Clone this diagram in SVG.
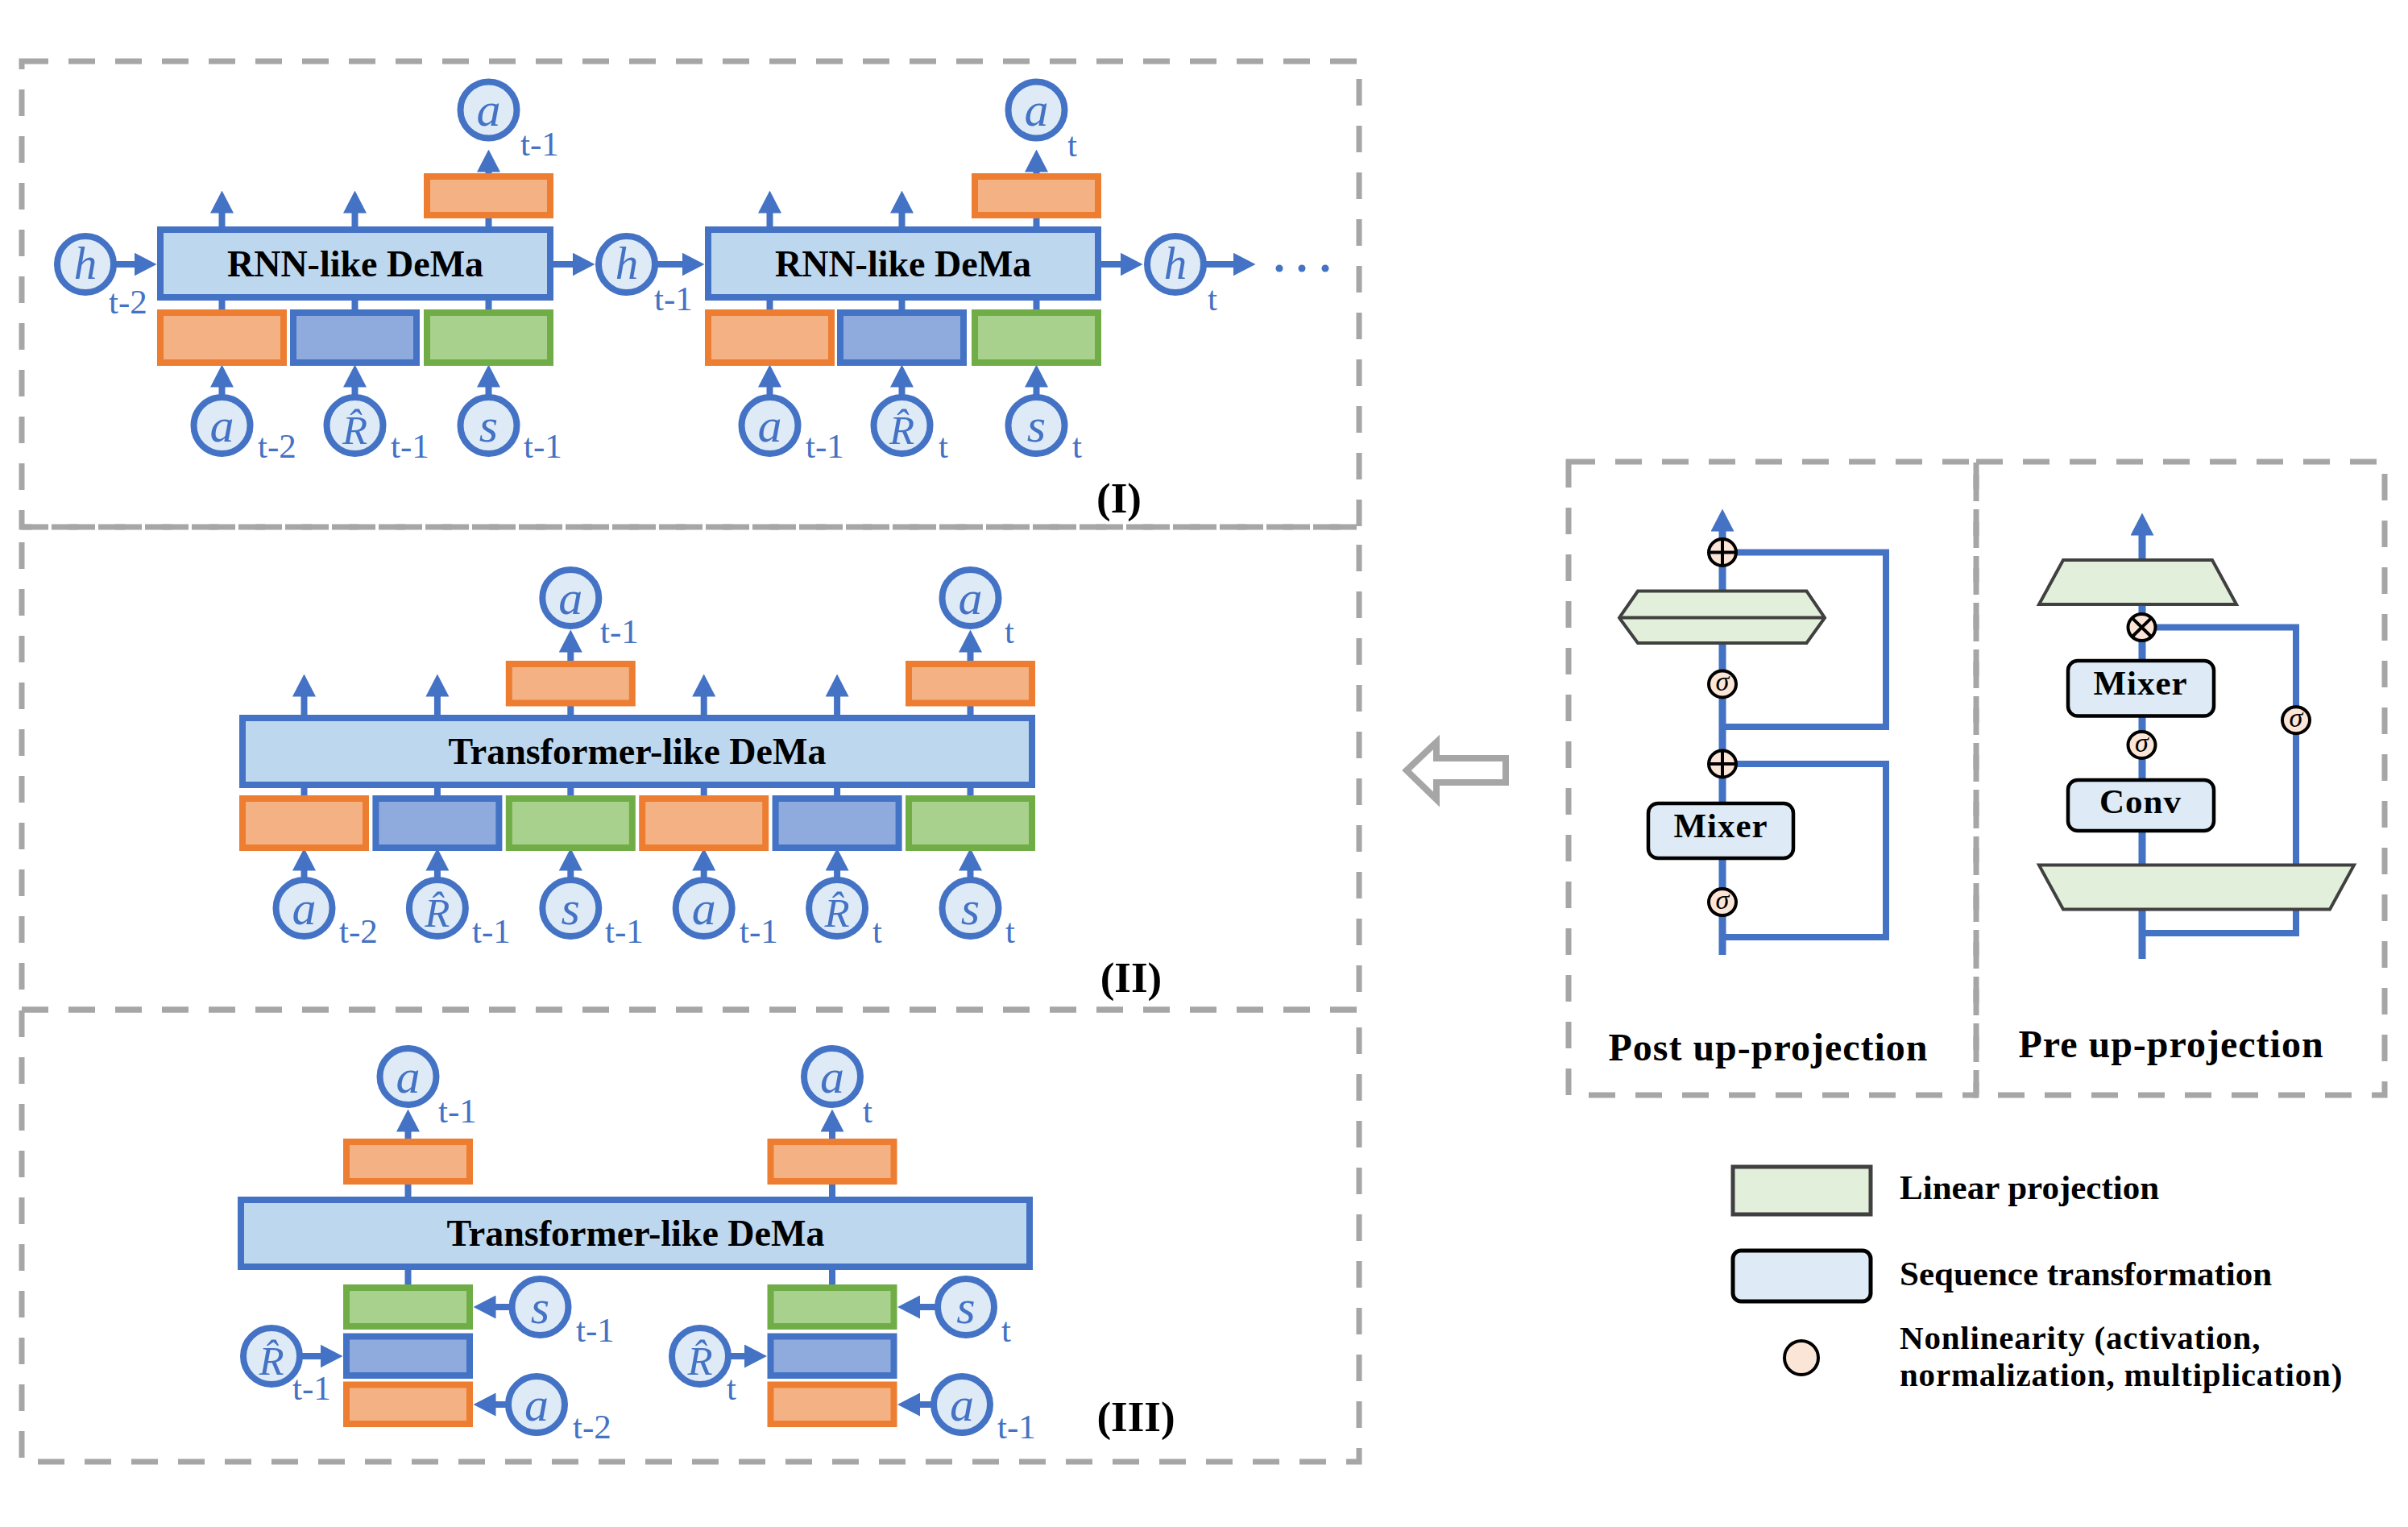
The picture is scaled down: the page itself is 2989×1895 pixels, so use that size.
<svg xmlns="http://www.w3.org/2000/svg" width="2989" height="1895" viewBox="0 0 2989 1895">
<style>
.dash{fill:none;stroke:#A6A6A6;stroke-width:7;stroke-dasharray:33 25}
.conn{stroke:#4472C4;stroke-width:8;fill:none}
.thick{stroke:#4472C4;stroke-width:9;fill:none}
.big{fill:#BDD7EE;stroke:#4472C4;stroke-width:8}
.or{fill:#F4B183;stroke:#ED7D31;stroke-width:8}
.bl{fill:#8FAADC;stroke:#4472C4;stroke-width:8}
.gr{fill:#A9D18E;stroke:#70AD47;stroke-width:8}
.cir{fill:#DEEBF7;stroke:#4472C4;stroke-width:8}
.v{font-family:"Liberation Serif",serif;font-style:italic;font-size:60px;fill:#4472C4;text-anchor:middle}
.vr{font-family:"Liberation Serif",serif;font-style:italic;font-size:51px;fill:#4472C4;text-anchor:middle}
.sub{font-family:"Liberation Serif",serif;font-size:43px;fill:#4472C4}
.title{font-family:"Liberation Serif",serif;font-weight:bold;font-size:46px;text-anchor:middle;fill:#000}
.lab{font-family:"Liberation Serif",serif;font-weight:bold;font-size:53px;text-anchor:middle;fill:#000}
.lin{fill:#E2EFDA;stroke:#404040;stroke-width:4}
.seq{fill:#DEEBF7;stroke:#000;stroke-width:4.5}
.nl{fill:#FBE5D6;stroke:#000;stroke-width:4}
.op{stroke:#000;stroke-width:4}
.sig{font-family:"Liberation Serif",serif;font-style:italic;font-size:34px;fill:#000;text-anchor:middle}
.mx{font-family:"Liberation Serif",serif;font-weight:bold;font-size:43px;text-anchor:middle;fill:#000;letter-spacing:1px}
.pt{font-family:"Liberation Serif",serif;font-weight:bold;font-size:48px;text-anchor:middle;fill:#000;letter-spacing:1px}
.leg{font-family:"Liberation Serif",serif;font-weight:bold;font-size:43px;fill:#000}
.leg2{font-family:"Liberation Serif",serif;font-weight:bold;font-size:41px;fill:#000;letter-spacing:0.8px}
</style>
<defs>
<marker id="ah" markerUnits="userSpaceOnUse" markerWidth="28" markerHeight="29" refX="0.5" refY="14.5" orient="auto" viewBox="0 0 28 29">
<path d="M0,0 L28,14.5 L0,29 z" fill="#4472C4"/>
</marker>
</defs>

<g id="frames">
<rect class="dash" x="27" y="76" width="1660" height="578"/>
<rect class="dash" x="27" y="654" width="1660" height="599"/>
<rect class="dash" x="27" y="1253" width="1660" height="561"/>
<rect class="dash" x="1947" y="573" width="506" height="786"/>
<rect class="dash" x="2453" y="573" width="507" height="786"/>
</g>

<g id="connectors">
<line class="conn" x1="275.5" y1="290" x2="275.5" y2="264" marker-end="url(#ah)"/>
<line class="conn" x1="440.5" y1="290" x2="440.5" y2="264" marker-end="url(#ah)"/>
<line class="conn" x1="955.5" y1="290" x2="955.5" y2="264" marker-end="url(#ah)"/>
<line class="conn" x1="1119.5" y1="290" x2="1119.5" y2="264" marker-end="url(#ah)"/>
<line class="conn" x1="606.5" y1="290" x2="606.5" y2="213" marker-end="url(#ah)"/>
<line class="conn" x1="1286.5" y1="290" x2="1286.5" y2="213" marker-end="url(#ah)"/>
<line class="conn" x1="275.5" y1="365" x2="275.5" y2="392"/>
<line class="conn" x1="440.5" y1="365" x2="440.5" y2="392"/>
<line class="conn" x1="606.5" y1="365" x2="606.5" y2="392"/>
<line class="conn" x1="955.5" y1="365" x2="955.5" y2="392"/>
<line class="conn" x1="1119.5" y1="365" x2="1119.5" y2="392"/>
<line class="conn" x1="1286.5" y1="365" x2="1286.5" y2="392"/>
<line class="conn" x1="275.5" y1="500" x2="275.5" y2="480" marker-end="url(#ah)"/>
<line class="conn" x1="440.5" y1="500" x2="440.5" y2="480" marker-end="url(#ah)"/>
<line class="conn" x1="606.5" y1="500" x2="606.5" y2="480" marker-end="url(#ah)"/>
<line class="conn" x1="955.5" y1="500" x2="955.5" y2="480" marker-end="url(#ah)"/>
<line class="conn" x1="1119.5" y1="500" x2="1119.5" y2="480" marker-end="url(#ah)"/>
<line class="conn" x1="1286.5" y1="500" x2="1286.5" y2="480" marker-end="url(#ah)"/>
<line class="conn" x1="106" y1="328" x2="167" y2="328" marker-end="url(#ah)"/>
<line class="conn" x1="680" y1="328" x2="711" y2="328" marker-end="url(#ah)"/>
<line class="conn" x1="778" y1="328" x2="847" y2="328" marker-end="url(#ah)"/>
<line class="conn" x1="1360" y1="328" x2="1391" y2="328" marker-end="url(#ah)"/>
<line class="conn" x1="1459" y1="328" x2="1531" y2="328" marker-end="url(#ah)"/>
<line class="conn" x1="377.5" y1="895" x2="377.5" y2="864" marker-end="url(#ah)"/>
<line class="conn" x1="542.9" y1="895" x2="542.9" y2="864" marker-end="url(#ah)"/>
<line class="conn" x1="873.7" y1="895" x2="873.7" y2="864" marker-end="url(#ah)"/>
<line class="conn" x1="1039.1" y1="895" x2="1039.1" y2="864" marker-end="url(#ah)"/>
<line class="conn" x1="708.3" y1="895" x2="708.3" y2="809" marker-end="url(#ah)"/>
<line class="conn" x1="1204.5" y1="895" x2="1204.5" y2="809" marker-end="url(#ah)"/>
<line class="conn" x1="377.5" y1="970" x2="377.5" y2="995"/>
<line class="conn" x1="542.9" y1="970" x2="542.9" y2="995"/>
<line class="conn" x1="708.3" y1="970" x2="708.3" y2="995"/>
<line class="conn" x1="873.7" y1="970" x2="873.7" y2="995"/>
<line class="conn" x1="1039.1" y1="970" x2="1039.1" y2="995"/>
<line class="conn" x1="1204.5" y1="970" x2="1204.5" y2="995"/>
<line class="conn" x1="377.5" y1="1120" x2="377.5" y2="1080" marker-end="url(#ah)"/>
<line class="conn" x1="542.9" y1="1120" x2="542.9" y2="1080" marker-end="url(#ah)"/>
<line class="conn" x1="708.3" y1="1120" x2="708.3" y2="1080" marker-end="url(#ah)"/>
<line class="conn" x1="873.7" y1="1120" x2="873.7" y2="1080" marker-end="url(#ah)"/>
<line class="conn" x1="1039.1" y1="1120" x2="1039.1" y2="1080" marker-end="url(#ah)"/>
<line class="conn" x1="1204.5" y1="1120" x2="1204.5" y2="1080" marker-end="url(#ah)"/>
<line class="conn" x1="506.5" y1="1495" x2="506.5" y2="1404" marker-end="url(#ah)"/>
<line class="conn" x1="1033" y1="1495" x2="1033" y2="1404" marker-end="url(#ah)"/>
<line class="conn" x1="506.5" y1="1570" x2="506.5" y2="1600"/>
<line class="conn" x1="1033" y1="1570" x2="1033" y2="1600"/>
<line class="conn" x1="670.5" y1="1622" x2="615" y2="1622" marker-end="url(#ah)"/>
<line class="conn" x1="337" y1="1683" x2="398" y2="1683" marker-end="url(#ah)"/>
<line class="conn" x1="666" y1="1743" x2="615" y2="1743" marker-end="url(#ah)"/>
<line class="conn" x1="1199" y1="1622" x2="1141.5" y2="1622" marker-end="url(#ah)"/>
<line class="conn" x1="869" y1="1683" x2="924.5" y2="1683" marker-end="url(#ah)"/>
<line class="conn" x1="1194" y1="1743" x2="1141.5" y2="1743" marker-end="url(#ah)"/>
<line class="thick" x1="2138" y1="1185" x2="2138" y2="659" marker-end="url(#ah)"/>
<path class="conn" d="M2138,902 H2341 V685.5 H2138"/>
<path class="conn" d="M2138,1163 H2341 V948 H2138"/>
<line class="thick" x1="2659" y1="1190" x2="2659" y2="664" marker-end="url(#ah)"/>
<path class="conn" d="M2659,1158 H2850 V778.6 H2659"/>
</g>

<g id="dots" fill="#4472C4">
<circle cx="1588" cy="333" r="4.5"/>
<circle cx="1616" cy="333" r="4.5"/>
<circle cx="1645" cy="333" r="4.5"/>
</g>

<g id="rnn1"><rect class="big" x="199" y="285" width="484" height="84"/><text class="title" x="441" y="343">RNN-like DeMa</text></g>
<g id="rnn2"><rect class="big" x="879" y="285" width="484" height="84"/><text class="title" x="1121" y="343">RNN-like DeMa</text></g>
<g id="i-emb-a1"><rect class="or" x="199" y="388" width="153" height="62"/></g>
<g id="i-emb-r1"><rect class="bl" x="364" y="388" width="153" height="62"/></g>
<g id="i-emb-s1"><rect class="gr" x="530" y="388" width="153" height="62"/></g>
<g id="i-emb-a2"><rect class="or" x="879" y="388" width="153" height="62"/></g>
<g id="i-emb-r2"><rect class="bl" x="1043" y="388" width="153" height="62"/></g>
<g id="i-emb-s2"><rect class="gr" x="1210" y="388" width="153" height="62"/></g>
<g id="i-out1"><rect class="or" x="530" y="219" width="153" height="48"/></g>
<g id="i-out2"><rect class="or" x="1210" y="219" width="153" height="48"/></g>

<g id="i-a-out1"><circle class="cir" cx="606.5" cy="136.5" r="35"/><text class="v" x="606.5" y="156">a</text><text class="sub" x="646" y="193">t-1</text></g>
<g id="i-a-out2"><circle class="cir" cx="1286.5" cy="136.5" r="35"/><text class="v" x="1286.5" y="156">a</text><text class="sub" x="1325" y="194">t</text></g>
<g id="h-t2"><circle class="cir" cx="106" cy="328" r="35"/><text class="v" x="106" y="346" style="font-size:57px">h</text><text class="sub" x="135" y="389">t-2</text></g>
<g id="h-t1"><circle class="cir" cx="778" cy="328" r="35"/><text class="v" x="778" y="346" style="font-size:57px">h</text><text class="sub" x="812" y="385">t-1</text></g>
<g id="h-t"><circle class="cir" cx="1459" cy="328" r="35"/><text class="v" x="1459" y="346" style="font-size:57px">h</text><text class="sub" x="1499" y="385">t</text></g>

<g id="i-a-in1"><circle class="cir" cx="275.5" cy="528" r="35"/><text class="v" x="275.5" y="547.5">a</text><text class="sub" x="320" y="568">t-2</text></g>
<g id="i-r-in1"><circle class="cir" cx="440.5" cy="528" r="35"/><text class="vr" x="440.5" y="551">R̂</text><text class="sub" x="485" y="568">t-1</text></g>
<g id="i-s-in1"><circle class="cir" cx="606.5" cy="528" r="35"/><text class="v" x="606.5" y="547.5">s</text><text class="sub" x="650" y="568">t-1</text></g>
<g id="i-a-in2"><circle class="cir" cx="955.5" cy="528" r="35"/><text class="v" x="955.5" y="547.5">a</text><text class="sub" x="1000" y="568">t-1</text></g>
<g id="i-r-in2"><circle class="cir" cx="1119.5" cy="528" r="35"/><text class="vr" x="1119.5" y="551">R̂</text><text class="sub" x="1165" y="568">t</text></g>
<g id="i-s-in2"><circle class="cir" cx="1286.5" cy="528" r="35"/><text class="v" x="1286.5" y="547.5">s</text><text class="sub" x="1331" y="568">t</text></g>
<text class="lab" x="1389" y="636">(I)</text>

<g id="tf2"><rect class="big" x="301" y="891" width="980" height="83"/><text class="title" x="791" y="948">Transformer-like DeMa</text></g>
<g id="ii-emb1"><rect class="or" x="301" y="991" width="153" height="61"/></g>
<g id="ii-emb2"><rect class="bl" x="466.4" y="991" width="153" height="61"/></g>
<g id="ii-emb3"><rect class="gr" x="631.8" y="991" width="153" height="61"/></g>
<g id="ii-emb4"><rect class="or" x="797.2" y="991" width="153" height="61"/></g>
<g id="ii-emb5"><rect class="bl" x="962.6" y="991" width="153" height="61"/></g>
<g id="ii-emb6"><rect class="gr" x="1128" y="991" width="153" height="61"/></g>
<g id="ii-out1"><rect class="or" x="631.8" y="824" width="153" height="48.5"/></g>
<g id="ii-out2"><rect class="or" x="1128" y="824" width="153" height="48.5"/></g>
<g id="ii-a-out1"><circle class="cir" cx="708.3" cy="742" r="35"/><text class="v" x="708.3" y="761.5">a</text><text class="sub" x="745" y="798">t-1</text></g>
<g id="ii-a-out2"><circle class="cir" cx="1204.5" cy="742" r="35"/><text class="v" x="1204.5" y="761.5">a</text><text class="sub" x="1247" y="798">t</text></g>
<g id="ii-in1"><circle class="cir" cx="377.5" cy="1127" r="35"/><text class="v" x="377.5" y="1146.5">a</text><text class="sub" x="421" y="1170">t-2</text></g>
<g id="ii-in2"><circle class="cir" cx="542.9" cy="1127" r="35"/><text class="vr" x="542.9" y="1150">R̂</text><text class="sub" x="586" y="1170">t-1</text></g>
<g id="ii-in3"><circle class="cir" cx="708.3" cy="1127" r="35"/><text class="v" x="708.3" y="1146.5">s</text><text class="sub" x="751" y="1170">t-1</text></g>
<g id="ii-in4"><circle class="cir" cx="873.7" cy="1127" r="35"/><text class="v" x="873.7" y="1146.5">a</text><text class="sub" x="918" y="1170">t-1</text></g>
<g id="ii-in5"><circle class="cir" cx="1039.1" cy="1127" r="35"/><text class="vr" x="1039.1" y="1150">R̂</text><text class="sub" x="1083" y="1170">t</text></g>
<g id="ii-in6"><circle class="cir" cx="1204.5" cy="1127" r="35"/><text class="v" x="1204.5" y="1146.5">s</text><text class="sub" x="1248" y="1170">t</text></g>
<text class="lab" x="1404" y="1231">(II)</text>

<g id="tf3"><rect class="big" x="299" y="1489" width="979" height="83"/><text class="title" x="789" y="1546">Transformer-like DeMa</text></g>
<g id="iii-out1"><rect class="or" x="430" y="1417" width="153" height="49"/></g>
<g id="iii-out2"><rect class="or" x="956.5" y="1417" width="153" height="49"/></g>
<g id="iii-g1"><rect class="gr" x="430" y="1598" width="153" height="48"/></g>
<g id="iii-b1"><rect class="bl" x="430" y="1658.5" width="153" height="48.5"/></g>
<g id="iii-o1"><rect class="or" x="430" y="1718.5" width="153" height="48.5"/></g>
<g id="iii-g2"><rect class="gr" x="956.5" y="1598" width="153" height="48"/></g>
<g id="iii-b2"><rect class="bl" x="956.5" y="1658.5" width="153" height="48.5"/></g>
<g id="iii-o2"><rect class="or" x="956.5" y="1718.5" width="153" height="48.5"/></g>
<g id="iii-a-out1"><circle class="cir" cx="506.5" cy="1336" r="35"/><text class="v" x="506.5" y="1355.5">a</text><text class="sub" x="544" y="1393">t-1</text></g>
<g id="iii-a-out2"><circle class="cir" cx="1033" cy="1336" r="35"/><text class="v" x="1033" y="1355.5">a</text><text class="sub" x="1071" y="1393">t</text></g>
<g id="iii-s1"><circle class="cir" cx="670.5" cy="1622" r="35"/><text class="v" x="670.5" y="1641.5">s</text><text class="sub" x="715" y="1665">t-1</text></g>
<g id="iii-r1"><circle class="cir" cx="337" cy="1683" r="35"/><text class="vr" x="337" y="1706">R̂</text><text class="sub" x="363" y="1737">t-1</text></g>
<g id="iii-a1"><circle class="cir" cx="666" cy="1743" r="35"/><text class="v" x="666" y="1762.5">a</text><text class="sub" x="711" y="1785">t-2</text></g>
<g id="iii-s2"><circle class="cir" cx="1199" cy="1622" r="35"/><text class="v" x="1199" y="1641.5">s</text><text class="sub" x="1243" y="1665">t</text></g>
<g id="iii-r2"><circle class="cir" cx="869" cy="1683" r="35"/><text class="vr" x="869" y="1706">R̂</text><text class="sub" x="902" y="1737">t</text></g>
<g id="iii-a2"><circle class="cir" cx="1194" cy="1743" r="35"/><text class="v" x="1194" y="1762.5">a</text><text class="sub" x="1238" y="1785">t-1</text></g>
<text class="lab" x="1410" y="1776">(III)</text>

<g id="hollow-arrow"><path d="M1746,956 L1783,921 L1783,941 L1869,941 L1869,971 L1783,971 L1783,992 Z" fill="#fff" stroke="#A6A6A6" stroke-width="8" stroke-linejoin="miter"/></g>

<g id="post-add2"><ellipse class="nl" cx="2138" cy="685.5" rx="17" ry="16.5"/><line class="op" x1="2121" y1="685.5" x2="2155" y2="685.5"/><line class="op" x1="2138" y1="669" x2="2138" y2="702"/></g>
<g id="post-proj"><polygon class="lin" points="2010,766.6 2033,733.6 2242.5,733.6 2265,766.6 2242.5,798 2033,798"/><line x1="2010" y1="766.6" x2="2265" y2="766.6" stroke="#404040" stroke-width="4"/></g>
<g id="post-sig2"><ellipse class="nl" cx="2138" cy="849" rx="17" ry="16.5"/><text class="sig" x="2138" y="857">σ</text></g>
<g id="post-add1"><ellipse class="nl" cx="2138" cy="948" rx="17" ry="16.5"/><line class="op" x1="2121" y1="948" x2="2155" y2="948"/><line class="op" x1="2138" y1="931.5" x2="2138" y2="964.5"/></g>
<g id="post-mixer"><rect class="seq" x="2046" y="997" width="180" height="68" rx="12"/><text class="mx" x="2136" y="1039">Mixer</text></g>
<g id="post-sig1"><ellipse class="nl" cx="2138" cy="1119.6" rx="17" ry="16.5"/><text class="sig" x="2138" y="1127.6">σ</text></g>
<text class="pt" x="2195" y="1316">Post up-projection</text>

<g id="pre-down"><polygon class="lin" points="2561,695 2746,695 2776,750 2531,750"/></g>
<g id="pre-mul"><ellipse class="nl" cx="2658.5" cy="778.6" rx="17" ry="16.5"/><line class="op" x1="2646.5" y1="766.9" x2="2670.5" y2="790.3"/><line class="op" x1="2670.5" y1="766.9" x2="2646.5" y2="790.3"/></g>
<g id="pre-mixer"><rect class="seq" x="2567" y="820" width="181" height="68.5" rx="12"/><text class="mx" x="2657" y="862">Mixer</text></g>
<g id="pre-sig1"><ellipse class="nl" cx="2658.5" cy="924.5" rx="17" ry="16.5"/><text class="sig" x="2658.5" y="932.5">σ</text></g>
<g id="pre-conv"><rect class="seq" x="2567" y="968" width="181" height="63" rx="12"/><text class="mx" x="2657" y="1009">Conv</text></g>
<g id="pre-sig2"><ellipse class="nl" cx="2850" cy="893.7" rx="17" ry="16.5"/><text class="sig" x="2850" y="901.7">σ</text></g>
<g id="pre-up"><polygon class="lin" points="2531,1073.6 2922,1073.6 2892,1128.5 2561,1128.5"/></g>
<text class="pt" x="2695" y="1312">Pre up-projection</text>

<g id="legend">
<rect x="2151" y="1448" width="171" height="59" fill="#E2EFDA" stroke="#404040" stroke-width="5"/>
<text class="leg" x="2358" y="1488">Linear projection</text>
<rect x="2151" y="1552" width="171" height="63" rx="10" fill="#DEEBF7" stroke="#000" stroke-width="5"/>
<text class="leg" x="2358" y="1595">Sequence transformation</text>
<circle cx="2236" cy="1685" r="21" fill="#FBE5D6" stroke="#000" stroke-width="4"/>
<text class="leg2" x="2358" y="1674">Nonlinearity (activation,</text>
<text class="leg2" x="2358" y="1720">normalization, multiplication)</text>
</g>
</svg>
